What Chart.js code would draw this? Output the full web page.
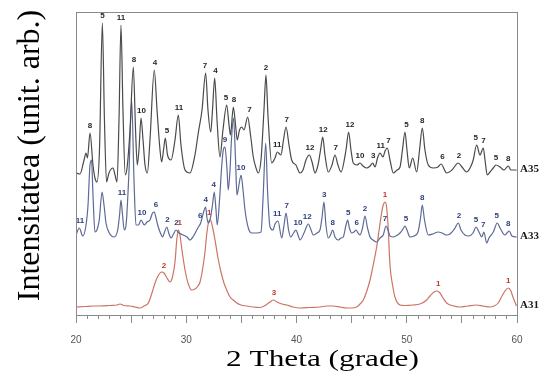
<!DOCTYPE html>
<html>
<head>
<meta charset="utf-8">
<script src="https://cdn.jsdelivr.net/npm/chart.js@4/dist/chart.umd.min.js"></script>
<style>html,body{margin:0;background:#fff}</style>
</head>
<body>
<canvas id="c" width="545" height="392"></canvas>
<script>
// === Data: [2theta, intensity (arb., stacked as in the figure)] ===
const X_MIN = 20, X_MAX = 60;
const X_TICKS = [20, 30, 40, 50, 60];
const X_TITLE = '2 Theta (grade)';
const Y_TITLE = 'Intensitatea (unit. arb.)';

const A35 = [
  [20.00,142],[20.36,141],[20.73,155],[20.91,162],[21.04,157],[21.27,182],[21.54,150],[21.72,137],[21.90,133],[22.13,165],
  [22.39,292],[22.58,195],[22.77,133],[22.99,142],[23.36,147],[23.54,140],[23.72,133],[23.90,195],[24.08,290],[24.26,205],
  [24.47,140],[24.63,147],[24.90,185],[25.20,248],[25.40,185],[25.56,150],[25.71,165],[25.90,197],[26.08,175],[26.26,150],
  [26.47,142],[26.71,175],[27.10,245],[27.35,205],[27.62,165],[27.77,153],[27.94,165],[28.10,177],[28.30,160],[28.62,155],
  [28.98,175],[29.28,200],[29.52,170],[29.89,145],[30.34,142],[30.79,160],[31.09,182],[31.43,205],[31.76,242],[31.97,205],
  [32.22,183],[32.38,205],[32.58,237],[32.79,195],[33.06,158],[33.33,185],[33.67,210],[33.88,190],[34.01,180],[34.27,208],
  [34.47,190],[34.63,175],[34.83,185],[35.03,188],[35.24,185],[35.57,198],[35.83,180],[36.08,158],[36.33,147],[36.53,142],
  [36.78,155],[37.05,205],[37.23,240],[37.41,200],[37.75,152],[38.05,157],[38.26,163],[38.59,160],[38.82,175],[39.05,188],
  [39.32,170],[39.56,155],[39.95,150],[40.32,142],[40.59,145],[40.86,155],[41.16,160],[41.41,153],[41.68,142],[41.95,150],
  [42.18,165],[42.38,178],[42.58,160],[42.88,143],[43.22,150],[43.49,160],[43.76,150],[44.04,143],[44.49,165],[44.73,183],
  [44.94,165],[45.15,152],[45.49,150],[45.76,152],[46.03,149],[46.37,147],[46.67,149],[46.91,152],[47.12,148],[47.35,157],
  [47.57,162],[47.84,158],[48.03,164],[48.24,167],[48.48,155],[48.78,142],[49.12,145],[49.39,148],[49.61,165],[49.84,183],
  [50.02,165],[50.23,147],[50.54,157],[50.90,143],[51.16,165],[51.41,187],[51.65,165],[51.95,150],[52.41,147],[52.83,148],
  [53.11,151],[53.62,142],[54.10,145],[54.67,152],[55.01,148],[55.44,143],[55.74,147],[56.03,155],[56.34,170],[56.64,160],
  [56.94,167],[57.10,155],[57.30,140],[57.55,143],[57.85,147],[58.09,150],[58.46,148],[58.82,145],[59.21,149],[59.45,145],
  [59.97,145]
];
const A33 = [
  [20.00,80],[20.30,87],[20.61,79],[20.91,90],[21.09,110],[21.27,150],[21.41,155],[21.54,120],[21.72,83],[21.90,85],
  [22.11,95],[22.36,123],[22.54,110],[22.72,92],[23.02,82],[23.47,78],[23.78,85],[23.95,100],[24.08,115],[24.22,100],
  [24.38,85],[24.54,90],[24.81,145],[25.05,215],[25.26,135],[25.44,90],[25.67,90],[25.90,95],[26.19,90],[26.44,93],
  [26.71,95],[26.94,102],[27.10,103],[27.26,97],[27.41,90],[27.62,83],[27.86,78],[28.03,83],[28.23,88],[28.44,81],
  [28.62,77],[28.84,81],[29.07,85],[29.34,82],[29.73,80],[30.07,78],[30.34,75],[30.66,79],[30.95,85],[31.16,89],
  [31.31,92],[31.55,102],[31.76,108],[31.88,97],[32.00,92],[32.15,95],[32.38,110],[32.54,123],[32.70,105],[32.81,90],
  [33.02,115],[33.21,148],[33.36,165],[33.51,168],[33.70,145],[33.81,125],[33.97,145],[34.10,175],[34.29,197],[34.47,155],
  [34.60,120],[34.78,130],[34.97,140],[35.15,125],[35.33,105],[35.63,87],[35.94,82],[36.39,82],[36.78,83],[36.96,115],
  [37.21,172],[37.37,125],[37.60,88],[37.87,85],[38.05,91],[38.32,94],[38.66,77],[38.87,90],[39.05,102],[39.28,85],
  [39.47,78],[39.73,82],[39.95,85],[40.14,80],[40.32,75],[40.68,82],[41.07,91],[41.32,85],[41.52,80],[41.86,82],
  [42.13,85],[42.31,97],[42.49,113],[42.67,90],[42.88,77],[43.08,80],[43.28,85],[43.49,78],[43.79,75],[44.04,77],
  [44.24,78],[44.49,90],[44.64,95],[44.80,87],[45.00,82],[45.21,83],[45.40,85],[45.58,82],[45.76,80],[45.99,87],
  [46.21,99],[46.44,87],[46.67,78],[46.94,75],[47.27,73],[47.57,77],[47.87,80],[48.12,89],[48.30,85],[48.48,79],
  [48.78,78],[49.02,79],[49.39,82],[49.66,86],[49.84,89],[50.02,85],[50.29,78],[50.66,79],[51.02,83],[51.25,97],
  [51.41,110],[51.61,95],[51.95,80],[52.38,81],[52.86,83],[53.20,82],[53.62,80],[53.92,81],[54.38,87],[54.67,92],
  [54.92,85],[55.28,80],[55.64,79],[56.01,82],[56.28,88],[56.55,83],[56.80,78],[57.00,83],[57.25,72],[57.46,77],
  [57.85,83],[58.21,92],[58.46,87],[58.91,80],[59.09,82],[59.30,84],[59.54,79],[59.97,78]
];
const A31 = [
  [20.00,8],[20.82,8.5],[21.54,9],[22.18,9],[23.08,9.5],[23.72,10],[23.99,11],[24.35,9.5],[24.90,9],[25.35,8],
  [25.80,7],[26.17,9],[26.56,12],[26.89,22],[27.17,32],[27.44,39],[27.77,43],[27.98,42],[28.25,37],[28.53,33],
  [28.75,38],[28.98,53],[29.14,75],[29.28,85],[29.43,80],[29.61,65],[29.89,45],[30.16,32],[30.49,25],[30.79,26],
  [31.07,29],[31.25,33],[31.47,45],[31.70,63],[31.88,83],[32.06,94],[32.20,95],[32.34,90],[32.61,75],[32.88,57],
  [33.15,43],[33.42,32],[33.67,25],[33.97,18],[34.27,15],[34.58,12],[34.97,10],[35.48,9],[36.05,8],[36.69,7.5],
  [37.23,10],[37.60,13],[37.90,15],[38.23,13],[38.68,11],[39.11,10],[39.68,8],[40.32,7],[41.22,7.5],[42.13,8],
  [42.77,9],[43.31,9],[43.94,8],[44.55,7],[45.03,7],[45.46,8],[45.76,11],[46.06,15],[46.35,23],[46.67,35],
  [46.94,49],[47.27,68],[47.52,87],[47.72,102],[47.87,110],[48.03,113],[48.16,109],[48.30,90],[48.48,50],[48.71,30],
  [48.93,18],[49.39,10],[49.84,9.5],[50.57,10],[51.20,11],[51.81,15],[52.11,19],[52.47,23],[52.77,24],[53.01,22],
  [53.29,17],[53.62,12],[54.10,9.5],[54.83,8],[55.55,9],[56.34,10],[56.91,9],[57.55,8],[57.91,9],[58.30,12],
  [58.64,19],[58.91,24],[59.21,27],[59.45,24],[59.63,18],[59.81,13],[59.95,9]
];

// phase labels over the peaks: [2theta, text]
const A35_PEAKS = [
  [21.27,'8'],[22.39,'5'],[24.08,'11'],[25.26,'8'],[25.94,'10'],[27.17,'4'],[28.25,'5'],[29.34,'11'],[31.70,'7'],[32.65,'4'],
  [33.61,'5'],[34.33,'8'],[35.74,'7'],[37.23,'2'],[38.26,'11'],[39.11,'7'],[41.22,'12'],[42.43,'12'],[43.55,'7'],[44.85,'12'],
  [45.76,'10'],[46.97,'3'],[47.64,'11'],[48.34,'7'],[49.98,'5'],[51.41,'8'],[53.24,'6'],[54.74,'2'],[56.25,'5'],[56.96,'7'],
  [58.09,'5'],[59.21,'8']
];
const A33_PEAKS = [
  [20.36,'11'],[24.17,'11'],[25.99,'10'],[27.26,'6'],[28.30,'2'],[29.12,'2'],[31.27,'6'],[31.76,'4'],[32.49,'4'],[33.51,'9'],
  [34.97,'10'],[38.26,'11'],[39.11,'7'],[40.14,'10'],[40.98,'12'],[42.52,'3'],[43.28,'8'],[44.70,'5'],[45.46,'6'],[46.21,'2'],
  [48.03,'7'],[49.93,'5'],[51.41,'8'],[54.74,'2'],[56.28,'5'],[56.94,'7'],[58.15,'5'],[59.21,'8']
];
const A31_PEAKS = [
  [27.98,'2'],[29.40,'1'],[32.08,'1'],[37.96,'3'],[48.03,'1'],[52.86,'1'],[59.21,'1']
];

// === Util ===
const $ = s => document.querySelector(s);
const toXY = a => a.map(([x, y]) => ({x, y}));
const SERIF = '"Liberation Serif", "Times New Roman", serif';
const SANS = '"Liberation Sans", Arial, sans-serif';

// box around the plot, minor ticks every degree, axis titles
const frame = {
  id: 'frame',
  afterDraw(chart){
    const {ctx, chartArea: a, scales: {x}} = chart;
    ctx.save();
    ctx.strokeStyle = '#8a8a8a'; ctx.lineWidth = 1;
    ctx.strokeRect(a.left + .5, a.top + .5, a.right - a.left, a.bottom - a.top);
    ctx.beginPath();
    for(let v = X_MIN; v <= X_MAX; v++){
      if(v % 5 === 0) continue;
      const px = Math.round(x.getPixelForValue(v)) + .5;
      ctx.moveTo(px, a.bottom); ctx.lineTo(px, a.bottom + 4);
    }
    ctx.stroke();
    // titles (x one is a bit wide in the original)
    ctx.fillStyle = '#000'; ctx.textAlign = 'center'; ctx.textBaseline = 'middle';
    ctx.save();
    ctx.translate((a.left + a.right) / 2 + 26, a.bottom + 45);
    ctx.scale(1.36, 1);
    ctx.font = '23px ' + SERIF;
    ctx.fillText(X_TITLE, 0, 0);
    ctx.restore();
    ctx.save();
    ctx.translate(31, (a.top + a.bottom) / 2 - 8);
    ctx.rotate(-Math.PI / 2);
    ctx.font = '32px ' + SERIF;
    ctx.fillText(Y_TITLE, 0, 0);
    ctx.restore();
    ctx.restore();
  }
};

// peak numbers + sample names on the right
const peakLabels = {
  id: 'peakLabels',
  afterDatasetsDraw(chart){
    const {ctx, scales: {x, y}} = chart;
    ctx.save();
    chart.data.datasets.forEach(ds => {
      ctx.font = 'bold 8px ' + SANS; ctx.textAlign = 'center'; ctx.textBaseline = 'bottom';
      ctx.fillStyle = ds.labelColor;
      ds.peaks.forEach(([t, txt]) => {
        const near = ds.data.filter(p => Math.abs(p.x - t) <= 0.2);
        const top = Math.max(...near.map(p => p.y));
        ctx.fillText(txt, x.getPixelForValue(t), y.getPixelForValue(top) - 3);
      });
      const last = ds.data[ds.data.length - 1];
      ctx.font = 'bold 11px ' + SERIF; ctx.textAlign = 'left'; ctx.textBaseline = 'middle';
      ctx.fillStyle = '#1a1a1a';
      ctx.fillText(ds.label, x.right + 3, y.getPixelForValue(last.y) - 1);
    });
    ctx.restore();
  }
};

new Chart($('#c'), {
  type: 'line',
  data: {
    datasets: [
      {label: 'A35', data: toXY(A35), borderColor: '#4a4a4a', peaks: A35_PEAKS, labelColor: '#262626'},
      {label: 'A33', data: toXY(A33), borderColor: '#5d6a96', peaks: A33_PEAKS, labelColor: '#2e3f7c'},
      {label: 'A31', data: toXY(A31), borderColor: '#cc7466', peaks: A31_PEAKS, labelColor: '#c0392b'}
    ]
  },
  options: {
    responsive: false,
    animation: false,
    layout: {padding: {left: 13, right: 28, top: 12, bottom: 19}},
    elements: {
      point: {radius: 0},
      line: {borderWidth: 1.2, cubicInterpolationMode: 'monotone', fill: false}
    },
    plugins: {legend: {display: false}, tooltip: {enabled: false}},
    scales: {
      x: {
        type: 'linear', min: X_MIN, max: X_MAX,
        afterBuildTicks: s => { s.ticks = []; for(let v = X_MIN; v <= X_MAX; v += 5) s.ticks.push({value: v}); },
        ticks: {callback: v => X_TICKS.includes(v) ? v : '', font: {size: 10, family: SANS}, color: '#555', padding: 11, maxRotation: 0},
        grid: {drawOnChartArea: false, tickLength: 8, color: '#8a8a8a'},
        border: {display: false},
        afterFit: s => { s.height = 58; }
      },
      y: {
        min: 0, max: 303,
        ticks: {display: false},
        grid: {display: false},
        border: {display: false},
        afterFit: s => { s.width = 63; }
      }
    }
  },
  plugins: [frame, peakLabels]
});
</script>
</body>
</html>
